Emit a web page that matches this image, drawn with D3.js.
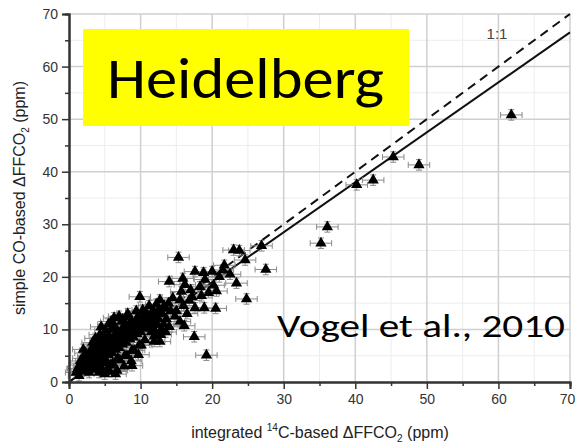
<!DOCTYPE html>
<html><head><meta charset="utf-8">
<script src="https://cdn.jsdelivr.net/npm/d3@7"></script>
<style>html,body{margin:0;padding:0;background:#fff;}svg{display:block;}</style>
</head><body>
<svg id="c" width="576" height="447"></svg>
<script>
// ---- data ----
const xTicks = [0,10,20,30,40,50,60,70];
const yTicks = [0,10,20,30,40,50,60,70];
const minorTicks = [5,15,25,35,45,55,65];
const xErr = 1.5;   // ppm
const yErr = 1.0;   // ppm
const oneToOne = [[0,0],[70,70]];
const fitLine = [[0,0],[70,66.5]];
// integrated 14C-based (x) vs simple CO-based (y)
const xs = [
 61.8,48.9,45.3,42.5,40.2,36.1,35.2,26.9,23.0,23.8,24.6,27.5,21.7,21.5,23.4,24.8,15.3,19.2,17.5,20.5,18.9,17.6,16.1,12.7,9.9,17.6,15.9,14.0,18.3,20.2,20.6,15.7,18.5,12.7,15.5,8.8,11.9,10.3,5.9,6.3,7.5,5.7,12.0,
 1.0,1.2,1.5,1.4,1.8,2.0,2.2,1.6,2.5,2.8,2.3,2.0,
 3.0,3.2,3.5,3.1,3.4,3.6,3.8,3.3,3.0,3.9,3.7,
 4.0,4.2,4.5,4.1,4.4,4.6,4.8,4.3,4.9,4.7,4.2,4.5,4.0,
 5.0,5.2,5.5,5.3,5.6,5.8,5.1,5.4,5.7,5.9,5.2,5.5,5.0,
 6.0,6.2,6.5,6.3,6.6,6.8,6.1,6.4,6.9,6.7,6.5,
 7.0,7.2,7.5,7.3,7.6,7.8,7.1,7.4,7.9,7.7,7.0,
 8.0,8.2,8.5,8.3,8.6,8.8,8.1,8.4,8.9,8.7,8.2,
 9.0,9.2,9.5,9.3,9.6,9.8,9.1,9.4,9.9,9.7,
 10.0,10.2,10.5,10.3,10.6,10.8,10.1,10.9,
 11.0,11.3,11.5,11.8,11.2,11.6,11.9,
 12.0,12.3,12.6,12.9,12.2,12.5,12.8,
 13.0,13.3,13.6,13.9,13.2,14.2,14.5,14.8,13.5,
 15.0,16.0,16.5,15.5,14.0,16.8,17.2,19.5,17.0,16.2,19.0,21.0,22.5,20.0,18.8,
 1.3,1.7,2.1,2.4,2.6,2.9,3.1,3.4,3.7,3.9,4.1,4.4,4.6,4.9,5.1,5.3,5.6,5.8,6.1,6.3,6.6,6.8,7.1,7.3,7.6,7.8,8.1,8.3,8.6,8.9,9.2,9.4,9.7,10.1,10.4,10.7,11.1,11.4,11.7,12.1,12.4,
 2.7,3.5,4.3,5.0,5.8,6.5,7.3,8.0,8.8,9.5,10.3,11.0,11.8,12.6,13.4
];
const ys = [
 50.8,41.3,42.8,38.4,37.5,29.5,26.4,25.9,25.1,25.0,23.2,21.4,22.2,21.3,18.8,15.8,23.7,5.1,8.6,14.0,14.1,14.1,10.7,7.7,16.2,21.0,19.7,19.1,18.1,18.4,17.3,17.2,16.4,15.6,15.6,3.1,7.7,13.7,11.5,12.2,11.9,2.0,9.7,
 1.8,2.5,3.2,1.2,2.0,4.5,3.0,4.0,2.2,1.8,5.5,6.2,
 2.8,4.0,3.5,5.2,6.5,2.4,4.8,7.5,6.0,5.8,8.3,
 3.0,4.2,5.0,6.8,7.8,3.6,6.0,9.0,8.5,2.3,1.8,10.5,5.5,
 4.5,6.3,5.2,7.5,8.8,3.2,9.8,2.5,6.9,10.0,3.8,11.0,1.5,
 5.5,7.0,6.2,8.2,9.3,4.5,3.5,10.6,7.6,2.2,1.5,
 6.5,8.0,7.2,9.2,10.5,5.0,4.2,11.5,8.6,3.0,12.5,
 7.5,9.0,8.2,10.3,11.3,6.0,5.0,12.4,9.7,4.0,13.0,
 8.5,10.0,9.2,11.2,12.3,7.0,6.0,13.5,10.5,5.2,
 9.5,11.0,10.2,12.5,8.0,13.0,7.0,11.5,
 10.5,12.0,9.5,13.5,14.5,11.2,8.7,
 12.5,11.0,13.8,10.0,14.8,12.0,9.0,
 13.0,14.5,12.0,15.0,11.0,13.5,16.0,12.5,9.5,
 13.5,14.5,13.0,11.5,10.5,15.5,16.2,17.0,17.5,18.5,19.5,20.0,20.5,21.0,20.8,
 2.6,3.6,2.8,4.0,3.2,4.6,3.9,5.0,4.3,6.8,5.2,6.2,4.9,7.2,5.8,8.0,6.4,7.6,6.9,8.6,7.4,9.0,8.2,9.6,8.6,10.2,9.1,10.8,9.6,11.0,10.0,11.8,10.4,11.2,12.2,10.8,11.6,12.8,10.9,12.4,13.2,
 4.8,5.6,6.4,7.0,7.9,8.4,9.3,9.8,10.8,11.4,12.0,12.7,12.9,13.4,14.0
];

// ---- layout ----
const svg = d3.select("#c");
const x = d3.scaleLinear().domain([0,70]).range([69,570]);
const y = d3.scaleLinear().domain([0,70]).range([382,14]);

// grid
const g = svg.append("g");
g.selectAll(".mx").data(minorTicks).join("line")
 .attr("x1",d=>x(d)).attr("x2",d=>x(d)).attr("y1",y(0)).attr("y2",y(70))
 .attr("stroke","#ececec").attr("stroke-width",1);
g.selectAll(".my").data(minorTicks).join("line")
 .attr("y1",d=>y(d)).attr("y2",d=>y(d)).attr("x1",x(0)).attr("x2",x(70))
 .attr("stroke","#ececec").attr("stroke-width",1);
g.selectAll(".Mx").data(xTicks.slice(1)).join("line")
 .attr("x1",d=>x(d)).attr("x2",d=>x(d)).attr("y1",y(0)).attr("y2",y(70))
 .attr("stroke","#cfcfcf").attr("stroke-width",1.5);
g.selectAll(".My").data(yTicks.slice(1)).join("line")
 .attr("y1",d=>y(d)).attr("y2",d=>y(d)).attr("x1",x(0)).attr("x2",x(70))
 .attr("stroke","#cfcfcf").attr("stroke-width",1.5);

// lines
const line = d3.line().x(d=>x(d[0])).y(d=>y(d[1]));
svg.append("path").attr("d",line(oneToOne)).attr("fill","none")
 .attr("stroke","#111").attr("stroke-width",2).attr("stroke-dasharray","9,6");
svg.append("path").attr("d",line(fitLine)).attr("fill","none")
 .attr("stroke","#111").attr("stroke-width",2);

// error bars
const pts = xs.map((v,i)=>[v,ys[i]]);
const eb = svg.append("g").attr("stroke","#8a8a8a").attr("stroke-width",1).attr("fill","none");
pts.forEach(p=>{
  const cx=x(p[0]), cy=y(p[1]);
  const x0=x(p[0]-xErr), x1=x(p[0]+xErr);
  const y0=y(p[1]-yErr), y1=y(p[1]+yErr);
  eb.append("path").attr("d",`M${x0},${cy}H${x1}M${x0},${cy-3}V${cy+3}M${x1},${cy-3}V${cy+3}M${cx},${y0}V${y1}M${cx-3},${y0}H${cx+3}M${cx-3},${y1}H${cx+3}`);
});
// triangles
const tri = d3.symbol().type(d3.symbolTriangle).size(55);
svg.append("g").selectAll("path").data(pts).join("path")
 .attr("d",tri).attr("transform",d=>`translate(${x(d[0])},${y(d[1])})`)
 .attr("fill","#000");

// axes
svg.append("g").attr("transform",`translate(0,${y(0)})`)
 .call(d3.axisBottom(x).tickValues(xTicks).tickSize(7).tickPadding(5).tickFormat(d3.format("d")));
svg.append("g").attr("transform",`translate(${x(0)},0)`)
 .call(d3.axisLeft(y).tickValues(yTicks).tickSize(7).tickPadding(4).tickFormat(d3.format("d")));
svg.append("g").attr("transform",`translate(0,${y(0)})`)
 .call(d3.axisBottom(x).tickValues(minorTicks).tickSize(4).tickFormat(""));
svg.append("g").attr("transform",`translate(${x(0)},0)`)
 .call(d3.axisLeft(y).tickValues(minorTicks).tickSize(4).tickFormat(""));
svg.selectAll(".domain").attr("stroke","#333").attr("stroke-width",2);
svg.selectAll(".tick line").attr("stroke","#333").attr("stroke-width",1.5);
svg.selectAll(".tick text").attr("font-family","Liberation Sans, Arial, sans-serif")
 .attr("font-size",14).attr("fill","#333");
// keep last x label inside the window
svg.selectAll(".tick text").filter(function(){return this.textContent==="70" && +this.getAttribute("y")>0;})
 .attr("dx",-3);

// axis titles
const xt = svg.append("text").attr("x",320).attr("y",438).attr("text-anchor","middle")
 .attr("font-family","Liberation Sans, Arial, sans-serif").attr("font-size",16).attr("fill","#222");
xt.append("tspan").text("integrated ");
xt.append("tspan").attr("font-size",10).attr("dy",-7).text("14");
xt.append("tspan").attr("dy",7).text("C-based ΔFFCO");
xt.append("tspan").attr("font-size",10).attr("dy",4).text("2");
xt.append("tspan").attr("dy",-4).text(" (ppm)");

const yt = svg.append("text").attr("transform",`translate(25,${y(35)}) rotate(-90)`).attr("text-anchor","middle")
 .attr("font-family","Liberation Sans, Arial, sans-serif").attr("font-size",16).attr("fill","#222");
yt.append("tspan").text("simple CO-based ΔFFCO");
yt.append("tspan").attr("font-size",10).attr("dy",4).text("2");
yt.append("tspan").attr("dy",-4).text(" (ppm)");

// 1:1 label
svg.append("text").attr("x",497).attr("y",39).attr("text-anchor","middle")
 .attr("font-family","Liberation Sans, Arial, sans-serif").attr("font-size",15).attr("fill","#444").text("1:1");

// Heidelberg box
svg.append("rect").attr("x",83).attr("y",29).attr("width",326).attr("height",97).attr("fill","#ffff00");
svg.append("text").attr("x",107).attr("y",98).attr("font-family","Carlito, Calibri, Lato, sans-serif")
 .attr("font-size",57).attr("fill","#000").attr("textLength",277).attr("lengthAdjust","spacingAndGlyphs").text("Heidelberg");

// citation
svg.append("text").attr("x",277).attr("y",337).attr("font-family","Carlito, Calibri, Lato, sans-serif")
 .attr("font-size",33).attr("fill","#000").attr("textLength",288).attr("lengthAdjust","spacingAndGlyphs").text("Vogel et al., 2010");
</script>
</body></html>
